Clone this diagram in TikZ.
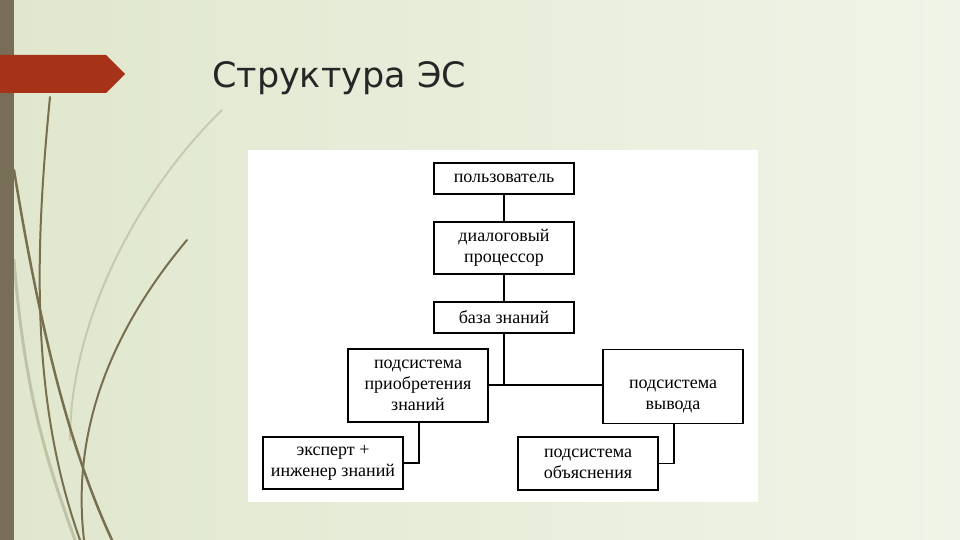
\documentclass[tikz,border=0pt]{standalone}
\usepackage{fontspec}
\setmainfont{Liberation Serif}
\newfontfamily\titlefont{DejaVu Sans}
\begin{document}
\begin{tikzpicture}[x=1pt,y=-1pt,
  box/.style={draw=black,line width=1.1pt,fill=white,minimum width=140pt,align=center,font=\fontsize{18}{21}\selectfont,inner sep=0pt},
  conn/.style={draw=black,line width=1.1pt},
  curve/.style={draw={rgb,255:red,120;green,110;blue,80},line cap=round}]
\useasboundingbox (0,0) rectangle (960,540);
\shade[left color={rgb,255:red,224;green,231;blue,205}, right color={rgb,255:red,240;green,244;blue,232}] (0,0) rectangle (960,540);
\fill[color={rgb,255:red,120;green,110;blue,88}] (0,0) rectangle (14,540);
% curves
\draw[curve,line width=2pt] (50,97) .. controls (35,250) and (30,400) .. (80,540);
\draw[curve,line width=2.5pt] (14,170) .. controls (40,330) and (70,450) .. (112,540);
\draw[curve,line width=2pt] (187,240) .. controls (120,320) and (70,420) .. (84,540);
\draw[curve,draw opacity=0.25,line width=2pt] (222,110) .. controls (130,200) and (70,330) .. (70,440);
\draw[curve,draw opacity=0.3,line width=3pt] (14,260) .. controls (25,400) and (50,470) .. (75,540);
% red arrow
\fill[color={rgb,255:red,166;green,50;blue,24}] (0,55) -- (106,55) -- (125,74) -- (106,93) -- (0,93) -- cycle;
\node[anchor=base west,inner sep=0pt,font=\titlefont\fontsize{35}{38}\selectfont,text=black!85] (title) at (212,88) {Структура ЭС};
% panel
\fill[white] (248,150) rectangle (758,502);
\node[box,minimum height=31pt] (u) at (504,178.5) {пользователь};
\node[box,minimum height=52pt] (d) at (504,248) {диалоговый\\процессор};
\node[box,minimum height=31pt] (b) at (504,317.5) {база знаний};
\node[box,minimum height=73pt] (p) at (418,385.5) {подсистема\\приобретения\\знаний};
\node[box,minimum height=74pt,anchor=north] (v) at (673,349) {\rule{0pt}{28pt}подсистема\\вывода};
\node[box,minimum height=52pt] (e) at (333,463) {эксперт +\\инженер знаний};
\node[box,minimum height=53pt] (o) at (588,463.5) {подсистема\\объяснения};
\coordinate (j) at (504,385);
\draw[conn] (u) -- (d);
\draw[conn] (d) -- (b);
\draw[conn] (b) -- (j);
\draw[conn] (p.east |- j) -- (v.west |- j);
\draw[conn] (p.south -| 419,0) |- (e.east);
\draw[conn] (v.south -| 674,0) |- (o.east);
\end{tikzpicture}
\end{document}
